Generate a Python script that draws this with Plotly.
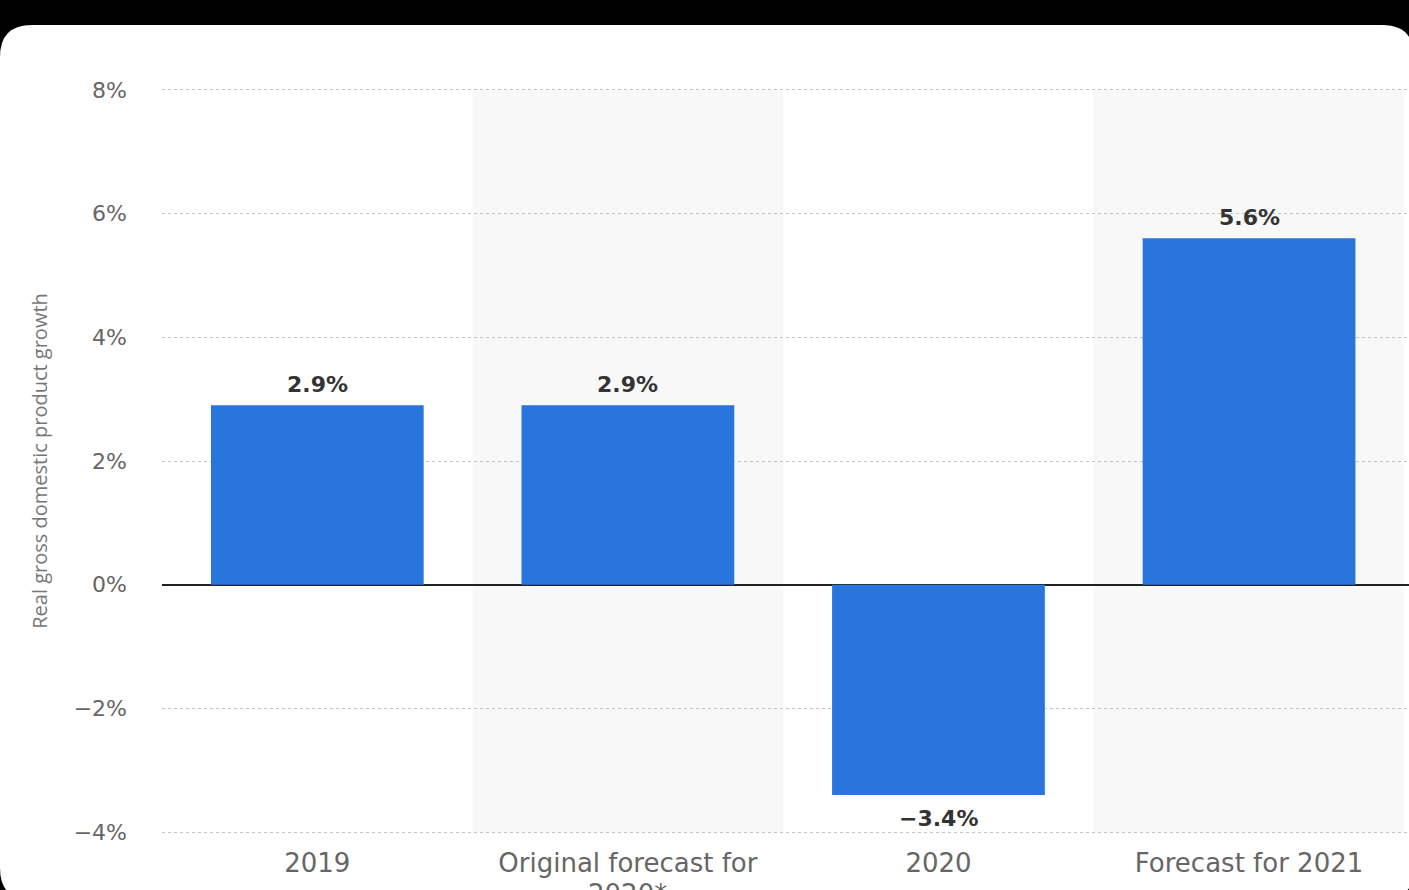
import plotly.graph_objects as go

categories = ["2019", "Original forecast for 2020*", "2020", "Forecast for 2021"]
tick_text = ["2019", "Original forecast for", "2020", "Forecast for 2021"]
tick_text_line2 = ["", "2020*", "", ""]
values = [2.9, 2.9, -3.4, 5.6]
labels = ["2.9%", "2.9%", "\u22123.4%", "5.6%"]
y_ticks = [-4, -2, 0, 2, 4, 6, 8]
y_tick_text = ["\u22124%", "\u22122%", "0%", "2%", "4%", "6%", "8%"]

W, H = 1409, 890
L, R, T, B = 162, 0, 88, 56
pw, ph = W - L - R, H - T - B

def px(X):
    return (X - L) / pw

def py(Y):
    return (H - B - Y) / ph

# rounded white card on black background
cx0, cx1, cy0, cy1, r = 0, 1414, 25, 900, 32
card = (
    f"M {px(cx0 + r)},{py(cy0)} L {px(cx1 - r)},{py(cy0)} "
    f"Q {px(cx1)},{py(cy0)} {px(cx1)},{py(cy0 + r)} "
    f"L {px(cx1)},{py(cy1 - r)} Q {px(cx1)},{py(cy1)} {px(cx1 - r)},{py(cy1)} "
    f"L {px(cx0 + r)},{py(cy1)} Q {px(cx0)},{py(cy1)} {px(cx0)},{py(cy1 - r)} "
    f"L {px(cx0)},{py(cy0 + r)} Q {px(cx0)},{py(cy0)} {px(cx0 + r)},{py(cy0)} Z"
)

shapes = [dict(type="path", path=card, xref="paper", yref="paper",
               fillcolor="white", line=dict(width=0), layer="below")]
for i in range(len(categories)):
    if i % 2 == 1:
        shapes.append(dict(type="rect", xref="x", yref="y",
                           x0=i - 0.5, x1=i + 0.5, y0=-4, y1=8,
                           fillcolor="#f8f8f8", line=dict(width=0), layer="below"))

fig = go.Figure()
fig.add_trace(go.Bar(
    x=list(range(len(categories))), y=values,
    marker=dict(color="#2876DD", line=dict(width=0)),
    hovertext=categories, hoverinfo="text+y",
))

annotations = []
for i, (v, t) in enumerate(zip(values, labels)):
    annotations.append(dict(
        x=i, y=v, xref="x", yref="y", text=t, showarrow=False,
        yanchor="bottom" if v >= 0 else "top",
        yshift=6 if v >= 0 else -9,
        font=dict(family="DejaVu Sans", size=22, color="#333333", weight="bold"),
    ))
for i, t in enumerate(tick_text_line2):
    if t:
        annotations.append(dict(
            x=i, y=py(877), xref="x", yref="paper", text=t, showarrow=False,
            yanchor="top",
            font=dict(family="DejaVu Sans", size=26, color="#666666"),
        ))

fig.update_layout(
    width=W, height=H,
    margin=dict(l=L, r=R, t=T, b=B, pad=0),
    paper_bgcolor="black",
    plot_bgcolor="rgba(0,0,0,0)",
    showlegend=False,
    bargap=0.315,
    shapes=shapes,
    annotations=annotations,
    xaxis=dict(
        range=[-0.5, 3.515],
        tickmode="array",
        tickvals=list(range(len(categories))),
        ticktext=tick_text,
        showgrid=False, zeroline=False, showline=False,
        ticks="",
        automargin=False,
        ticklabelstandoff=11,
        tickfont=dict(family="DejaVu Sans", size=26, color="#666666"),
    ),
    yaxis=dict(
        range=[-4.03, 8.03],
        tickmode="array",
        tickvals=y_ticks,
        ticktext=y_tick_text,
        showgrid=True, gridcolor="#c4c4c4", gridwidth=1, griddash="dot",
        zeroline=True, zerolinecolor="#222222", zerolinewidth=2,
        showline=False, ticks="",
        automargin=False,
        ticklabelstandoff=34,
        tickfont=dict(family="DejaVu Sans", size=22, color="#666666"),
        title=dict(text="Real gross domestic product growth",
                   font=dict(family="Open Sans", size=20, color="#777777"),
                   standoff=20),
    ),
)

fig.write_html(
    "out.html",
    config={"displayModeBar": False},
    post_script="document.body.style.margin='0';document.body.style.background='black';document.body.style.overflow='hidden';",
)
